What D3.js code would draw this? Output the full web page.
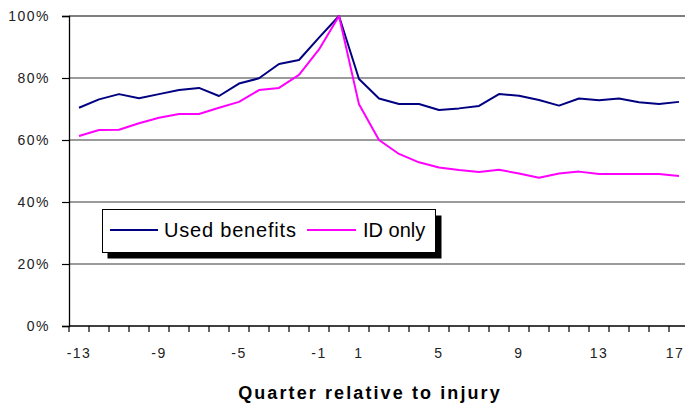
<!DOCTYPE html>
<html>
<head>
<meta charset="utf-8">
<script src="https://cdn.jsdelivr.net/npm/d3@7"></script>
<style>
  html, body { margin: 0; padding: 0; background: #fff; }
  svg { display: block; }
  text { font-family: "Liberation Sans", Arial, sans-serif; }
</style>
</head>
<body>
<svg id="chart" width="685" height="406"></svg>
<script>
const quarters = [-13,-12,-11,-10,-9,-8,-7,-6,-5,-4,-3,-2,-1,0,1,2,3,4,5,6,7,8,9,10,11,12,13,14,15,16,17];
const usedBenefits = [70.4,73.1,74.8,73.5,74.8,76.1,76.8,74.2,78.2,79.9,84.5,85.8,93.0,100,79.7,73.4,71.6,71.6,69.7,70.2,71.0,74.8,74.3,72.9,71.1,73.4,72.8,73.4,72.2,71.6,72.3];
const idOnly = [61.3,63.2,63.3,65.4,67.2,68.4,68.4,70.4,72.3,76.1,76.8,81.0,89.2,100,71.5,60.0,55.5,52.8,51.1,50.3,49.7,50.4,49.2,47.8,49.2,49.8,49.0,49.0,49.0,49.0,48.4];
const xTickLabels = [-13,-9,-5,-1,1,5,9,13,17];
const yTicks = [0,20,40,60,80,100];
const seriesNames = ["Used benefits","ID only"];
const seriesColors = ["#000080","#FF00FF"];
const xTitle = "Quarter relative to injury";

(function () {
const svg = d3.select("#chart");
const pL = 69, pR = 689, pT = 16, pB = 326;

const x = d3.scaleBand().domain(quarters).range([pL, pR]).padding(0);
const y = d3.scaleLinear().domain([0, 100]).range([pB, pT]);
const cx = q => x(q) + x.bandwidth() / 2;

// gridlines
svg.append("g").selectAll("line")
  .data(yTicks.filter(d => d > 0))
  .join("line")
  .attr("x1", pL).attr("x2", pR)
  .attr("y1", d => y(d)).attr("y2", d => y(d))
  .attr("stroke", d => d === 100 ? "#000" : "#7a7a7a")
  .attr("stroke-width", d => d === 100 ? 1.2 : 1.6);

// y axis
const yAxis = svg.append("g")
  .attr("transform", `translate(${pL},0)`)
  .call(d3.axisLeft(y).tickValues(yTicks).tickFormat(d => d + "%").tickSize(7).tickPadding(12));
yAxis.select(".domain").attr("stroke", "#000").attr("stroke-width", 1.3);
yAxis.selectAll(".tick line").attr("stroke", "#000").attr("stroke-width", 1.2);
yAxis.selectAll(".tick text")
  .attr("font-family", "'Liberation Sans', Arial, sans-serif")
  .attr("font-size", 14).attr("letter-spacing", "1.5px").attr("fill", "#222");

// x axis line + tick marks at category boundaries
svg.append("line")
  .attr("x1", pL).attr("x2", pR)
  .attr("y1", pB).attr("y2", pB)
  .attr("stroke", "#000").attr("stroke-width", 1.3);
const edges = quarters.map(q => x(q)).concat([x(quarters[quarters.length - 1]) + x.bandwidth()]);
svg.append("g").selectAll("line")
  .data(edges).join("line")
  .attr("x1", d => d).attr("x2", d => d)
  .attr("y1", pB).attr("y2", pB + 6)
  .attr("stroke", "#000").attr("stroke-width", 1.2);

// x tick labels via axis
const xAxis = svg.append("g")
  .attr("transform", `translate(0,${pB})`)
  .call(d3.axisBottom(x).tickValues(xTickLabels).tickSize(0).tickPadding(22));
xAxis.select(".domain").remove();
xAxis.selectAll(".tick text")
  .attr("font-family", "'Liberation Sans', Arial, sans-serif")
  .attr("font-size", 14).attr("letter-spacing", "1.5px").attr("fill", "#222")
  .attr("dx", d => d === xTickLabels[xTickLabels.length - 1] ? -4 : 0);

// x title
svg.append("text")
  .attr("x", 370).attr("y", 399)
  .attr("text-anchor", "middle")
  .attr("font-size", 18).attr("font-weight", "bold")
  .attr("letter-spacing", "2.1px").attr("fill", "#000")
  .text(xTitle);

// lines
const line = d3.line().x((d, i) => cx(quarters[i])).y(d => y(d));
[usedBenefits, idOnly].forEach((s, i) => {
  svg.append("path")
    .datum(s)
    .attr("d", line)
    .attr("fill", "none")
    .attr("stroke", seriesColors[i])
    .attr("stroke-width", 2)
    .attr("stroke-linejoin", "round");
});

// legend
const lg = svg.append("g");
lg.append("rect").attr("x", 107.5).attr("y", 215.5).attr("width", 334).attr("height", 43).attr("fill", "#000");
lg.append("rect").attr("x", 102.5).attr("y", 209.5).attr("width", 333).attr("height", 43)
  .attr("fill", "#fff").attr("stroke", "#000").attr("stroke-width", 1);
const legendItems = [
  {x1: 110, x2: 158, tx: 164},
  {x1: 307, x2: 356, tx: 363}
];
legendItems.forEach((it, i) => {
  lg.append("line").attr("x1", it.x1).attr("x2", it.x2).attr("y1", 230).attr("y2", 230)
    .attr("stroke", seriesColors[i]).attr("stroke-width", 2);
  lg.append("text").attr("x", it.tx).attr("y", 237)
    .attr("font-size", 20).attr("letter-spacing", i === 0 ? "0.8px" : "0px").attr("fill", "#000")
    .text(seriesNames[i]);
});
})();
</script>
</body>
</html>
